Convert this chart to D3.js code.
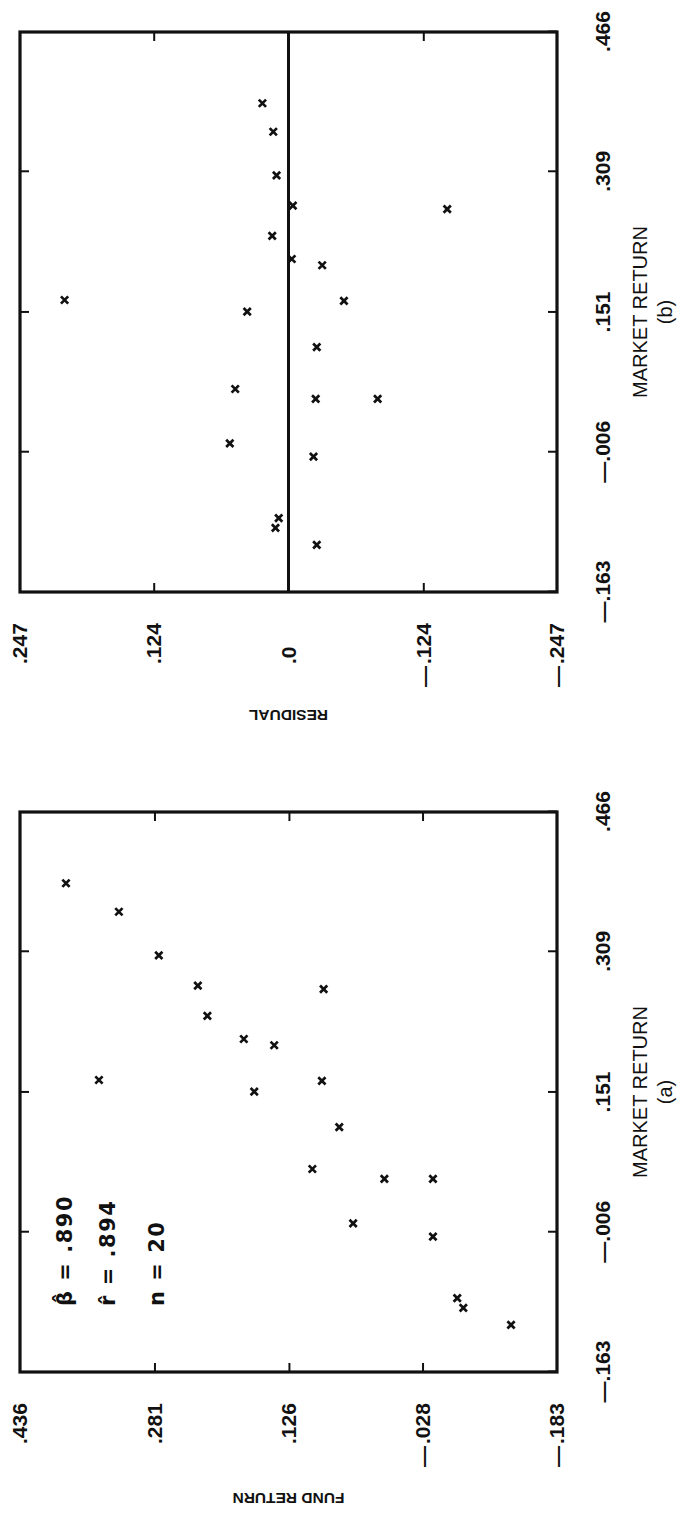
<!DOCTYPE html>
<html>
<head>
<meta charset="utf-8">
<script src="https://cdn.jsdelivr.net/npm/d3@7"></script>
<style>
  body { margin: 0; background: #fff; }
  svg text { font-family: 'Liberation Sans', Arial, sans-serif; fill: #111; }
</style>
</head>
<body>
<div id="chart"></div>
<script>
// values (20 periods)
var marketReturn = [0.386, 0.354, 0.305, 0.271, 0.237, 0.211, 0.204, 0.267, 0.165, 0.152,
  0.164, 0.112, 0.065, 0.054, 0.054, 0.004, -0.011, -0.080, -0.091, -0.110];
var fundReturn = [0.383, 0.322, 0.276, 0.231, 0.220, 0.178, 0.143, 0.086, 0.345, 0.166,
  0.088, 0.068, 0.099, 0.016, -0.040, 0.052, -0.040, -0.068, -0.075, -0.130];
var residual = [0.024, 0.014, 0.011, -0.004, 0.015, -0.003, -0.031, -0.146, 0.206, 0.038,
  -0.051, -0.026, 0.049, -0.025, -0.082, 0.054, -0.023, 0.009, 0.012, -0.026];

// axis ticks, as printed
var marketTicks = [-0.163, -0.006, 0.151, 0.309, 0.466];
var marketTickLabels = ['—.163', '—.006', '.151', '.309', '.466'];
var fundTicks = [0.436, 0.281, 0.126, -0.028, -0.183];
var fundTickLabels = ['.436', '.281', '.126', '—.028', '—.183'];
var residTicks = [0.247, 0.124, 0, -0.124, -0.247];
var residTickLabels = ['.247', '.124', '.0', '—.124', '—.247'];
var statLines = ['β̂ = .890', 'r̂ = .894', 'n = 20'];

// plot box in the unrotated frame (figure is printed turned on its side)
var W = 560;
var H = 537;

var svg = d3.select('#chart')
  .append('svg')
  .attr('width', 685)
  .attr('height', 1523);
svg.append('rect')
  .attr('width', 685)
  .attr('height', 1523)
  .attr('fill', '#fff');

function drawpanel (cfg) {
  var g = svg.append('g')
    .attr('transform', 'translate(' + cfg.left + ',' + cfg.bottom + ') rotate(-90)');

  var x = d3.scaleLinear().domain([-0.163, 0.466]).range([0, W]);
  var y = d3.scaleLinear().domain(cfg.yDomain).range([H, 0]);
  var innerX = marketTicks.slice(1, -1);
  var innerY = cfg.yTicks.slice(1, -1);

  // inward ticks on all four sides
  var bottomAxis = g.append('g')
    .attr('class', 'axis')
    .attr('transform', 'translate(0,' + H + ')')
    .call(d3.axisBottom(x)
      .tickValues(marketTicks)
      .tickSize(-9)
      .tickPadding(38)
      .tickFormat(function (d, i) { return marketTickLabels[i]; }));
  g.append('g')
    .attr('class', 'axis')
    .call(d3.axisTop(x).tickValues(innerX).tickSize(-9).tickFormat(''));
  g.append('g')
    .attr('class', 'axis')
    .call(d3.axisLeft(y).tickValues(innerY).tickSize(-9).tickFormat(''));
  g.append('g')
    .attr('class', 'axis')
    .attr('transform', 'translate(' + W + ',0)')
    .call(d3.axisRight(y).tickValues(innerY).tickSize(-9).tickFormat(''));

  g.selectAll('.axis .domain').remove();
  g.selectAll('.axis line')
    .attr('stroke', '#111')
    .attr('stroke-width', 2);
  bottomAxis.selectAll('text')
    .attr('fill', '#111')
    .style('font-size', '21px')
    .style('font-weight', 'bold')
    .style('font-family', "'Liberation Sans', Arial, sans-serif");

  // y labels: numbers start on one column, the minus dash hangs in front
  cfg.yTicks.forEach(function (v, i) {
    var lab = cfg.yLabels[i];
    var num = lab.replace('—', '');
    g.append('text')
      .attr('x', -72)
      .attr('y', y(v))
      .attr('dy', '0.35em')
      .attr('text-anchor', 'start')
      .style('font-size', '21px')
      .style('font-weight', 'bold')
      .text(num);
    if (lab.indexOf('—') === 0) {
      g.append('text')
        .attr('x', -74)
        .attr('y', y(v))
        .attr('dy', '0.35em')
        .attr('text-anchor', 'end')
        .style('font-size', '21px')
        .style('font-weight', 'bold')
        .text('—');
    }
  });

  if (cfg.zeroLine) {
    g.append('line')
      .attr('x1', 0)
      .attr('x2', W)
      .attr('y1', y(0))
      .attr('y2', y(0))
      .attr('stroke', '#111')
      .attr('stroke-width', 3);
  }

  // frame
  g.append('rect')
    .attr('width', W)
    .attr('height', H)
    .attr('fill', 'none')
    .attr('stroke', '#111')
    .attr('stroke-width', 3.2);

  g.selectAll('path.pt')
    .data(cfg.values)
    .enter().append('path')
    .attr('class', 'pt')
    .attr('d', d3.symbol().type(d3.symbolTimes).size(36))
    .attr('transform', function (d, i) {
      return 'translate(' + x(marketReturn[i]) + ',' + y(d) + ')';
    })
    .attr('fill', 'none')
    .attr('stroke', '#111')
    .attr('stroke-width', 2.7);

  g.append('text')
    .attr('x', W / 2)
    .attr('y', H + 83)
    .attr('dy', '0.35em')
    .attr('text-anchor', 'middle')
    .style('font-size', '20px')
    .text('MARKET RETURN');
  g.append('text')
    .attr('x', W / 2)
    .attr('y', H + 108)
    .attr('dy', '0.35em')
    .attr('text-anchor', 'middle')
    .style('font-size', '20px')
    .text(cfg.tag);

  g.append('text')
    .attr('transform', 'translate(' + cfg.titleX + ',' + (H / 2) + ') rotate(-90)')
    .attr('dy', '0.35em')
    .attr('text-anchor', 'middle')
    .style('font-size', '15.5px')
    .style('font-weight', 'bold')
    .text(cfg.yTitle);

  if (cfg.stats) {
    g.selectAll('text.stat')
      .data(cfg.stats)
      .enter().append('text')
      .attr('class', 'stat')
      .attr('x', 66)
      .attr('y', function (d, i) { return [45, 88, 137][i]; })
      .attr('dy', '0.35em')
      .style('font-size', '21px')
      .style('font-weight', 'bold')
      .style('letter-spacing', '1.5px')
      .style('font-family', "'DejaVu Sans', sans-serif")
      .text(function (d) { return d; });
  }
}

drawpanel({
  left: 20,
  bottom: 592,
  yDomain: [-0.247, 0.247],
  yTicks: residTicks,
  yLabels: residTickLabels,
  values: residual,
  zeroLine: true,
  tag: '(b)',
  yTitle: 'RESIDUAL',
  titleX: -123
});

drawpanel({
  left: 20,
  bottom: 1372,
  yDomain: [-0.183, 0.436],
  yTicks: fundTicks,
  yLabels: fundTickLabels,
  values: fundReturn,
  zeroLine: false,
  tag: '(a)',
  yTitle: 'FUND RETURN',
  titleX: -126,
  stats: statLines
});
</script>
</body>
</html>
